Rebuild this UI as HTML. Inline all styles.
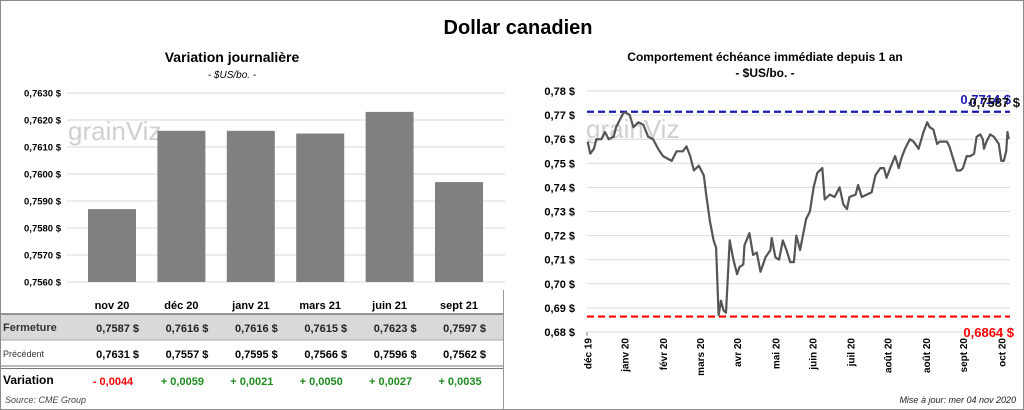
<!DOCTYPE html>
<html><head><meta charset="utf-8"><style>
body{margin:0;width:1024px;height:410px;overflow:hidden;background:#fff;font-family:"Liberation Sans",sans-serif}
svg{display:block}
</style></head><body>
<svg id="s" width="1024" height="410" viewBox="0 0 1024 410" xmlns="http://www.w3.org/2000/svg" font-family="Liberation Sans, sans-serif">
<rect x="0.5" y="0.5" width="1023" height="409" fill="#fff" stroke="#8c8c8c"/>
<text x="518" y="34" font-size="20" font-weight="bold" text-anchor="middle">Dollar canadien</text>
<text x="232" y="62" font-size="14" font-weight="bold" text-anchor="middle">Variation  journalière</text>
<text x="232" y="78" font-size="10" font-style="italic" text-anchor="middle">- $US/bo. -</text>
<text x="765" y="61" font-size="12" font-weight="bold" text-anchor="middle">Comportement échéance immédiate depuis 1 an</text>
<text x="765" y="77" font-size="12" font-weight="bold" text-anchor="middle">- $US/bo. -</text>
<g id="left"></g>
<g id="right"></g>
<g id="table"></g>
<text x="5" y="403" font-size="9" font-style="italic" fill="#444">Source: CME Group</text>
<text x="1016" y="403" font-size="9" font-style="italic" fill="#222" text-anchor="end">Mise à jour: mer 04 nov 2020</text>
</svg>
<script>
const barCats=["nov 20","déc 20","janv 21","mars 21","juin 21","sept 21"];
const barVals=[0.7587,0.7616,0.7616,0.7615,0.7623,0.7597];
const barTicks=[0.7560,0.7570,0.7580,0.7590,0.7600,0.7610,0.7620,0.7630];
const prevVals=[0.7631,0.7557,0.7595,0.7566,0.7596,0.7562];
const varVals=[-0.0044,0.0059,0.0021,0.0050,0.0027,0.0035];
const lineDays=[0,2,5,7,11,14,17,21,23,26,29,31,34,37,41,45,49,53,57,61,68,72,77,80,83,86,90,94,96,99,102,104,106,108,110,112,115,118,121,123,126,127,131,134,137,140,144,148,149,152,155,158,161,164,167,169,172,175,177,180,183,186,190,192,196,200,204,207,210,212,217,219,222,226,230,233,237,240,242,245,249,252,254,257,261,264,268,272,275,277,280,283,285,291,293,296,299,302,304,307,310,313,315,318,320,321,323,326,329,333,335,337,339,340,341];
const lineVals=[0.759,0.754,0.756,0.760,0.760,0.763,0.760,0.761,0.765,0.768,0.771,0.771,0.770,0.765,0.767,0.766,0.761,0.760,0.756,0.753,0.751,0.755,0.755,0.757,0.753,0.747,0.749,0.745,0.737,0.726,0.718,0.715,0.687,0.693,0.689,0.688,0.718,0.710,0.704,0.707,0.708,0.716,0.721,0.712,0.713,0.705,0.711,0.714,0.719,0.711,0.710,0.718,0.714,0.709,0.709,0.720,0.714,0.722,0.727,0.730,0.740,0.746,0.748,0.735,0.737,0.736,0.740,0.733,0.731,0.736,0.737,0.741,0.736,0.737,0.738,0.745,0.748,0.748,0.744,0.748,0.753,0.748,0.752,0.756,0.760,0.759,0.756,0.763,0.767,0.765,0.764,0.758,0.759,0.759,0.757,0.752,0.747,0.747,0.748,0.753,0.753,0.754,0.761,0.762,0.760,0.756,0.759,0.762,0.761,0.758,0.751,0.751,0.755,0.763,0.760];
const lineTicks=[0.68,0.69,0.70,0.71,0.72,0.73,0.74,0.75,0.76,0.77,0.78];
const monthLabels=["déc 19","janv 20","févr 20","mars 20","avr 20","mai 20","juin 20","juil 20","août 20","août 20","sept 20","oct 20"];
const monthDays=[0,30,61,91,121,152,182,213,243,274,304,335];
const highVal=0.7714, lowVal=0.6864, lastVal=0.7587;
const NS="http://www.w3.org/2000/svg";
function mk(p,t,a,txt){const e=document.createElementNS(NS,t);for(const k in a)e.setAttribute(k,a[k]);if(txt!==undefined)e.textContent=txt;p.appendChild(e);return e;}
const fmt4=v=>(Math.round(v*10000+1e-6)/10000).toFixed(4).replace('.',',');
const fmt2=v=>v.toFixed(2).replace('.',',');
// left bar chart
const L=document.getElementById('left');
const by=v=>282-(v-0.7560)/0.0010*27;
const bx0=77.3,bw=69.4;
barTicks.forEach(t=>{
 const g=mk(L,'line',{x1:67,x2:505,y1:by(t),y2:by(t),stroke:'#d9d9d9','stroke-width':1});
 
 const l=mk(L,'text',{x:61,y:by(t)+3.5,'font-size':9.5,'font-weight':'bold','text-anchor':'end'},fmt4(t)+' $');
 
});
mk(L,'text',{x:68,y:140,'font-size':26,fill:'#d0d0d0'},'grainViz');
barVals.forEach((v,i)=>{
 const cx=bx0+bw*(i+0.5);
 const r=mk(L,'rect',{x:cx-24,y:by(v),width:48,height:282-by(v),fill:'#808080'});
 
 const t=mk(L,'text',{x:cx,y:309,'font-size':11,'font-weight':'bold','text-anchor':'middle'},barCats[i]);
 
});
// table
const T=document.getElementById('table');
mk(T,'rect',{x:1,y:314,width:502,height:26,fill:'#d9d9d9'});
mk(T,'line',{x1:1,x2:503,y1:314,y2:314,stroke:'#777','stroke-width':1.5});
mk(T,'line',{x1:1,x2:503,y1:340,y2:340,stroke:'#aaa','stroke-width':1});
mk(T,'line',{x1:1,x2:503,y1:366,y2:366,stroke:'#777','stroke-width':1});
mk(T,'line',{x1:1,x2:503,y1:368.5,y2:368.5,stroke:'#777','stroke-width':1});
mk(T,'line',{x1:503.5,x2:503.5,y1:290,y2:410,stroke:'#999','stroke-width':1});
const h1=mk(T,'text',{x:3,y:331,'font-size':11,'font-weight':'bold',fill:'#333'},'Fermeture');

const h2=mk(T,'text',{x:3,y:357,'font-size':9,fill:'#333'},'Précédent');

const h3=mk(T,'text',{x:3,y:384,'font-size':12,'font-weight':'bold'},'Variation');

barVals.forEach((v,i)=>{
 const cx=bx0+bw*(i+0.5);
 const a=mk(T,'text',{x:cx+27,y:332,'font-size':11,'font-weight':'bold','text-anchor':'end',fill:'#222','xml:space':'preserve'},fmt4(v)+'  $');
 
 const b=mk(T,'text',{x:cx+27,y:358,'font-size':11,'font-weight':'bold','text-anchor':'end','xml:space':'preserve'},fmt4(prevVals[i])+'  $');
 
 const d=varVals[i];
 const c=mk(T,'text',{x:cx+1,y:385,'font-size':11,'font-weight':'bold','text-anchor':'middle',fill:d<0?'#ff0000':'#1e8c1e'},(d<0?'- ':'+ ')+fmt4(Math.abs(d)));
 
});
// right line chart
const R=document.getElementById('right');
const ly=v=>332-(v-0.68)/0.01*24.1;
const lx=d=>587.7+d*1.2346;
lineTicks.forEach(t=>{
 const g=mk(R,'line',{x1:587,x2:1010,y1:ly(t),y2:ly(t),stroke:'#d9d9d9','stroke-width':1});
 
 const l=mk(R,'text',{x:575,y:ly(t)+4,'font-size':11,'font-weight':'bold','text-anchor':'end'},fmt2(t)+' $');
 
});
mk(R,'text',{x:586,y:138,'font-size':26,fill:'#d0d0d0'},'grainViz');
mk(R,'line',{x1:587,x2:587,y1:332,y2:336,stroke:'#888'});
monthLabels.forEach((m,i)=>{
 const x=lx(monthDays[i]);
 const t=mk(R,'text',{x:0,y:0,'font-size':10,'font-weight':'bold','text-anchor':'end',transform:`translate(${x+4},338) rotate(-90)`},m);
 
});
const hl=mk(R,'line',{x1:587,x2:1010,y1:ly(highVal),y2:ly(highVal),stroke:'#1a1ab4','stroke-width':2.2,'stroke-dasharray':'7 4'});

const ll=mk(R,'line',{x1:587,x2:1010,y1:ly(lowVal),y2:ly(lowVal),stroke:'#ff0000','stroke-width':2.2,'stroke-dasharray':'7 4'});

const pts=lineDays.map((d,i)=>lx(d).toFixed(1)+','+ly(lineVals[i]).toFixed(1)).join(' ');
const pl=mk(R,'polyline',{points:pts,fill:'none',stroke:'#555','stroke-width':2.2,'stroke-linejoin':'round'});

const ht=mk(R,'text',{x:1011,y:104,'font-size':13,'font-weight':'bold',fill:'#1a1ab4','text-anchor':'end'},fmt4(highVal)+' $');

const lt=mk(R,'text',{x:1020,y:107,'font-size':13,'font-weight':'bold',fill:'#111','text-anchor':'end'},fmt4(lastVal)+' $');

const lo=mk(R,'text',{x:1014,y:337,'font-size':13,'font-weight':'bold',fill:'#ff0000','text-anchor':'end'},fmt4(lowVal)+' $');

</script>
</body></html>
